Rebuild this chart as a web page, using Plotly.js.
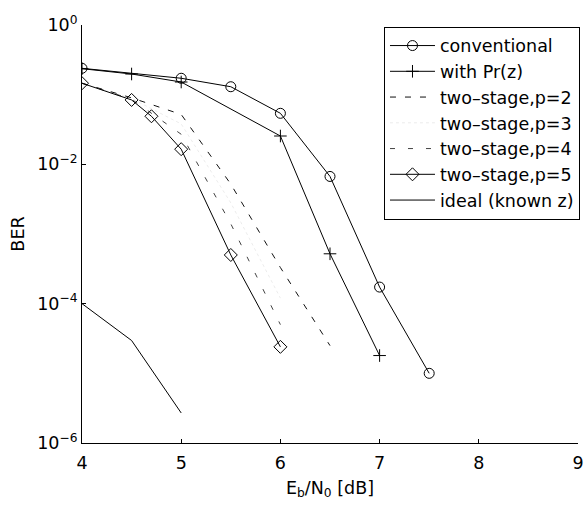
<!DOCTYPE html>
<html>
<head>
<meta charset="utf-8">
<script src="https://cdn.plot.ly/plotly-3.0.1.min.js"></script>
<style>
  html, body { margin: 0; padding: 0; background: #fff; }
  #chart { width: 587px; height: 511px; }
</style>
</head>
<body>
<div id="chart"></div>
<script>
// Eb/N0 grid points (dB) for each receiver variant
const ebnoConv   = [4, 5, 5.5, 6, 6.5, 7, 7.5];
const berConv    = [0.239, 0.172, 0.130, 0.054, 6.7e-3, 1.73e-4, 1.0e-5];

const ebnoPrz    = [4, 4.5, 5, 6, 6.5, 7];
const berPrz     = [0.236, 0.198, 0.152, 0.0255, 5.2e-4, 1.8e-5];

const ebnoP2     = [4, 4.5, 5, 5.5, 6, 6.5];
const berP2      = [0.146, 0.090, 0.052, 5.2e-3, 3.3e-4, 2.5e-5];

const ebnoP3     = [4, 4.5, 5, 5.5, 6];
const berP3      = [0.146, 0.088, 0.038, 2.8e-3, 1.2e-4];

const ebnoP4     = [4, 4.5, 5, 5.5, 6];
const berP4      = [0.146, 0.086, 0.027, 1.4e-3, 5.0e-5];

const ebnoP5     = [4, 4.5, 4.7, 5, 5.5, 6];
const berP5      = [0.146, 0.084, 0.049, 0.0165, 5.0e-4, 2.4e-5];

const ebnoIdeal  = [4, 4.5, 5];
const berIdeal   = [1.0e-4, 2.96e-5, 2.7e-6];

const legendNames = [
  'conventional', 'with Pr(z)', 'two\u2013stage,p=2', 'two\u2013stage,p=3',
  'two\u2013stage,p=4', 'two\u2013stage,p=5', 'ideal (known z)'
];

const yTickVals = [1, 1e-2, 1e-4, 1e-6];
const yTickText = ['10<sup>0</sup>', '10<sup>\u22122</sup>', '10<sup>\u22124</sup>', '10<sup>\u22126</sup>'];
const xTickVals = [4, 5, 6, 7, 8, 9];

const ink = '#000';

function markerTrace(x, y, name, symbol, size) {
  return {
    x: x, y: y, name: name, type: 'scatter', mode: 'lines+markers',
    line: { color: ink, width: 1 },
    marker: { symbol: symbol, size: size, color: ink, line: { color: ink, width: 1 } }
  };
}
function lineTrace(x, y, name, color, dash) {
  return {
    x: x, y: y, name: name, type: 'scatter', mode: 'lines',
    line: { color: color, width: 1, dash: dash }
  };
}

const traces = [
  markerTrace(ebnoConv, berConv, legendNames[0], 'circle-open', 10),
  markerTrace(ebnoPrz, berPrz, legendNames[1], 'cross-thin-open', 9),
  lineTrace(ebnoP2, berP2, legendNames[2], '#111', '6px,9px'),
  lineTrace(ebnoP3, berP3, legendNames[3], 'rgba(0,0,0,0.08)', 'dot'),
  lineTrace(ebnoP4, berP4, legendNames[4], '#444', '5px,13px'),
  markerTrace(ebnoP5, berP5, legendNames[5], 'diamond-open', 10),
  lineTrace(ebnoIdeal, berIdeal, legendNames[6], ink, 'solid')
];

const fontFamily = 'DejaVu Sans, Liberation Sans, Arial, sans-serif';
const tickFont = { family: fontFamily, size: 17.5, color: ink };
const legendFont = { family: fontFamily, size: 17.5, color: ink };
const titleFont = { family: fontFamily, size: 17.5, color: ink };

const layout = {
  width: 587, height: 511,
  margin: { l: 82, r: 8, t: 25, b: 68 },
  paper_bgcolor: '#fff', plot_bgcolor: '#fff',
  font: tickFont,
  showlegend: true,
  legend: {
    x: 1.002, xanchor: 'right', y: 0.996, yanchor: 'top',
    bgcolor: '#fff', bordercolor: ink, borderwidth: 1,
    font: legendFont, tracegroupgap: 0, itemwidth: 45
  },
  xaxis: {
    range: [4, 9], tickvals: xTickVals,
    ticks: 'inside', ticklen: 4, tickcolor: ink, tickwidth: 1,
    ticklabelstandoff: 4,
    showline: true, linecolor: ink, linewidth: 1, mirror: false,
    showgrid: false, zeroline: false,
    tickfont: tickFont,
    title: { text: 'E<sub>b</sub>/N<sub>0</sub> [dB]', font: titleFont, standoff: 9 }
  },
  yaxis: {
    type: 'log', range: [-6, 0],
    tickvals: yTickVals, ticktext: yTickText,
    ticks: 'inside', ticklen: 4, tickcolor: ink, tickwidth: 1,
    showline: true, linecolor: ink, linewidth: 1, mirror: false,
    showgrid: false, zeroline: false,
    tickfont: tickFont,
    title: { text: 'BER', font: titleFont, standoff: 8 }
  }
};

Plotly.newPlot('chart', traces, layout, { displayModeBar: false, staticPlot: true });
</script>
</body>
</html>
